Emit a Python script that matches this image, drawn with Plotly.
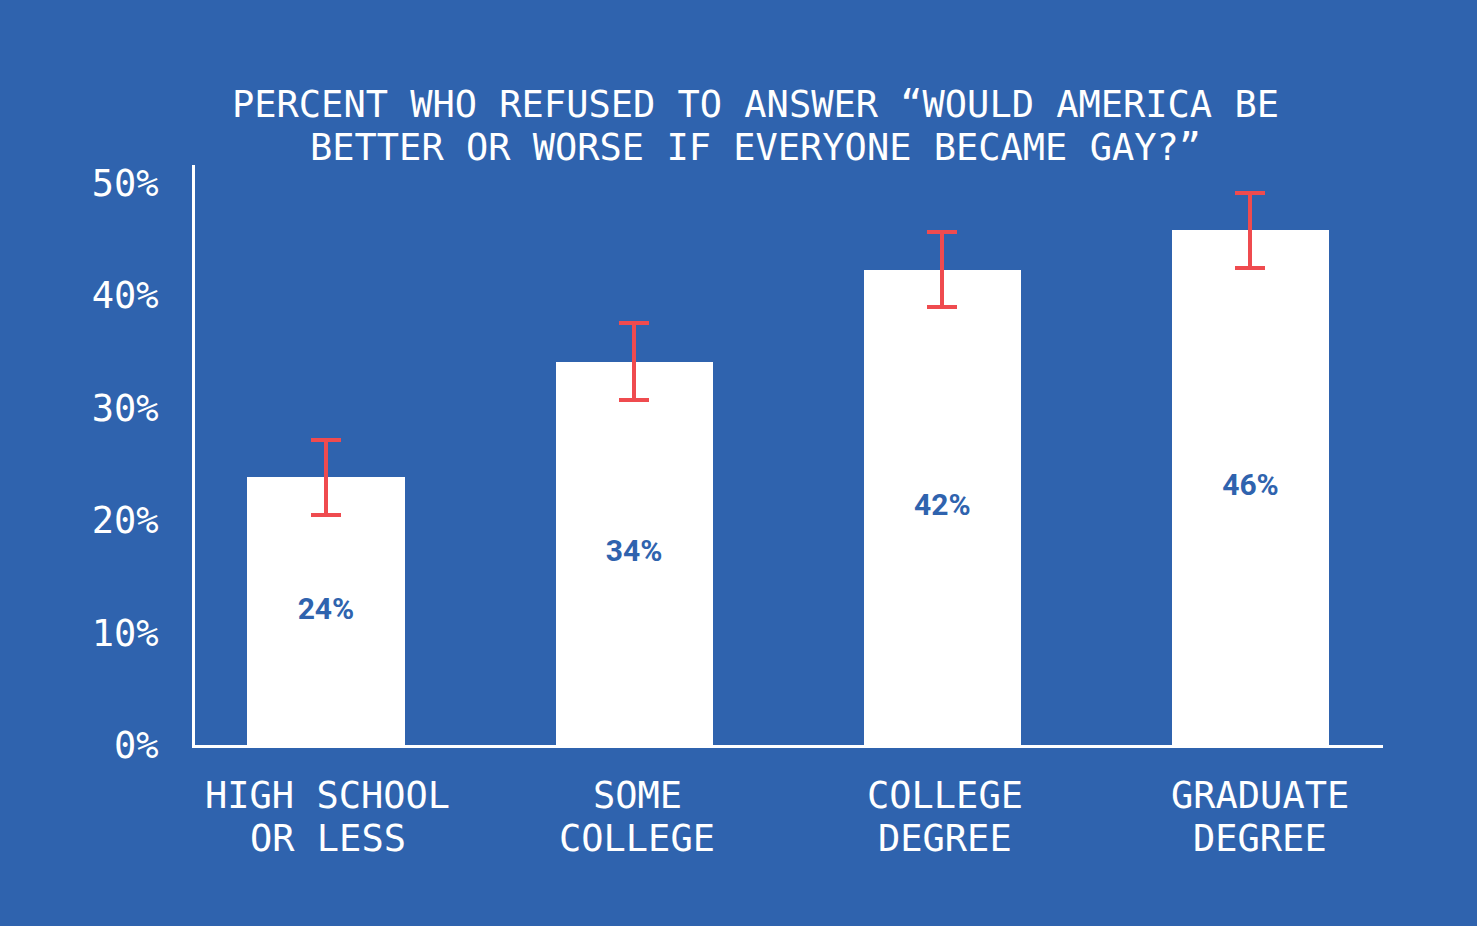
import plotly.graph_objects as go

categories = ["HIGH SCHOOL<br>OR LESS", "SOME<br>COLLEGE", "COLLEGE<br>DEGREE", "GRADUATE<br>DEGREE"]
values = [23.8, 34.1, 42.3, 45.8]
errors = [3.3, 3.4, 3.35, 3.35]
value_labels = ["24%", "34%", "42%", "46%"]
y_ticks = [0, 10, 20, 30, 40, 50]
y_tick_labels = ["0%", "10%", "20%", "30%", "40%", "50%"]
title_lines = ["PERCENT WHO REFUSED TO ANSWER “WOULD AMERICA BE",
               "BETTER OR WORSE IF EVERYONE BECAME GAY?”"]

BG = "#2F63AE"
MONO = "DejaVu Sans Mono"
label_xshift = [2, 3, 3, 10]

fig = go.Figure()
fig.add_trace(go.Bar(
    x=list(range(len(categories))),
    y=values,
    width=0.51,
    marker=dict(color="white", line=dict(width=0)),
    error_y=dict(type="data", array=errors, visible=True, color="#EF4B4F", thickness=4, width=15),
    hoverinfo="skip",
))
fig.add_trace(go.Scatter(
    x=list(range(len(categories))),
    y=[v / 2 for v in values],
    mode="text",
    text=value_labels,
    textfont=dict(family="Roboto", size=30, color=BG, weight="bold"),
    hoverinfo="skip",
))

annotations = []
for i, line in enumerate(title_lines):
    annotations.append(dict(
        text=line,
        x=(755 - 195) / 1188, xref="paper", y=1, yref="paper",
        yanchor="middle", xanchor="center", yshift=61 - 43 * i,
        showarrow=False, align="center",
        font=dict(family=MONO, size=37, color="white"),
    ))
for i, cat in enumerate(categories):
    for j, line in enumerate(cat.split("<br>")):
        annotations.append(dict(
            text=line,
            x=i, xref="x", y=0, yref="paper",
            yanchor="middle", xanchor="center", yshift=-50 - 43 * j,
            xshift=label_xshift[i],
            showarrow=False,
            font=dict(family=MONO, size=37, color="white"),
        ))

fig.update_layout(
    width=1477, height=926,
    paper_bgcolor=BG, plot_bgcolor=BG,
    margin=dict(l=195, r=94, t=165, b=181),
    showlegend=False,
    bargap=0,
    annotations=annotations,
)
fig.update_xaxes(
    range=[-0.425, 3.43],
    showticklabels=False,
    showline=True, linecolor="white", linewidth=3,
    showgrid=False, zeroline=False, ticks="",
)
fig.update_yaxes(
    range=[0, 51.6],
    tickmode="array", tickvals=y_ticks, ticktext=y_tick_labels,
    tickfont=dict(family=MONO, size=37, color="white"),
    showline=True, linecolor="white", linewidth=3,
    showgrid=False, zeroline=False, ticks="", ticklabelstandoff=26,
)

fig.write_html("out.html", config={"displayModeBar": False},
               post_script="document.body.style.margin='0';document.body.style.background='%s';" % BG)
